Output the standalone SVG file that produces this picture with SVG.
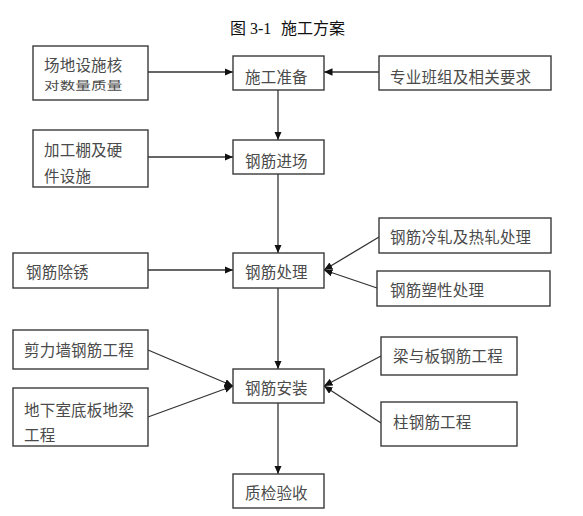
<svg xmlns="http://www.w3.org/2000/svg" width="583" height="516" viewBox="0 0 583 516">
<style>
.box{fill:#fff;stroke:#3a3a3a;stroke-width:1.4}
.t{font-family:"Noto Sans CJK SC","Noto Sans",sans-serif;font-size:15.5px;fill:#4a4a4a;letter-spacing:0.2px}
.ttl{font-family:"Noto Sans CJK SC","Noto Sans",sans-serif;font-size:16px;fill:#111}
.c{fill:none;stroke:#333;stroke-width:1.3;marker-end:url(#ah)}
</style>
<defs>
<marker id="ah" markerUnits="userSpaceOnUse" markerWidth="9" markerHeight="8" refX="8.5" refY="3.75" orient="auto">
<path d="M0,0 L8.5,3.75 L0,7.5 z" fill="#111"/>
</marker>
</defs>
<rect width="583" height="516" fill="#fff"/>
<g id="title">
<text class="ttl" y="34"><tspan x="230">图</tspan><tspan x="250" style="font-family:'Liberation Serif',serif">3-1</tspan><tspan x="281">施工方案</tspan></text>
</g>
<g id="connectors">
<line class="c" x1="148" y1="72" x2="233" y2="72"/>
<line class="c" x1="379" y1="72" x2="324" y2="72"/>
<line class="c" x1="278" y1="90" x2="278" y2="140"/>
<line class="c" x1="148" y1="157" x2="233" y2="157"/>
<line class="c" x1="278" y1="174" x2="278" y2="253"/>
<line class="c" x1="148" y1="270" x2="233" y2="270"/>
<line class="c" x1="379" y1="237" x2="324" y2="270"/>
<line class="c" x1="377" y1="288" x2="324" y2="270"/>
<line class="c" x1="278" y1="288" x2="278" y2="369"/>
<line class="c" x1="148" y1="350" x2="233" y2="386"/>
<line class="c" x1="148" y1="417" x2="233" y2="386"/>
<line class="c" x1="381" y1="356" x2="324" y2="386"/>
<line class="c" x1="381" y1="423" x2="324" y2="386"/>
<line class="c" x1="278" y1="403" x2="278" y2="474"/>
</g>
<g id="n1"><rect class="box" x="33" y="46" width="115" height="54"/><text class="t" x="44" y="71">场地设施核</text><text class="t" x="44" y="90" transform="translate(0,22.5) scale(1,0.75)">对数量质量</text></g>
<g id="n2"><rect class="box" x="233" y="56" width="91" height="34"/><text class="t" x="245" y="83">施工准备</text></g>
<g id="n3"><rect class="box" x="379" y="56" width="172" height="34"/><text class="t" x="390" y="83">专业班组及相关要求</text></g>
<g id="n4"><rect class="box" x="33" y="130" width="115" height="57"/><text class="t" x="44" y="156">加工棚及硬</text><text class="t" x="44" y="182">件设施</text></g>
<g id="n5"><rect class="box" x="233" y="140" width="91" height="34"/><text class="t" x="245" y="167">钢筋进场</text></g>
<g id="n6"><rect class="box" x="379" y="218" width="172" height="35"/><text class="t" x="390" y="243">钢筋冷轧及热轧处理</text></g>
<g id="n7"><rect class="box" x="13" y="253" width="135" height="35"/><text class="t" x="26" y="278">钢筋除锈</text></g>
<g id="n8"><rect class="box" x="233" y="253" width="91" height="35"/><text class="t" x="245" y="278">钢筋处理</text></g>
<g id="n9"><rect class="box" x="377" y="271" width="173" height="35"/><text class="t" x="390" y="296">钢筋塑性处理</text></g>
<g id="n10"><rect class="box" x="13" y="330" width="135" height="39"/><text class="t" x="24" y="356">剪力墙钢筋工程</text></g>
<g id="n11"><rect class="box" x="381" y="337" width="136" height="38"/><text class="t" x="393" y="362">梁与板钢筋工程</text></g>
<g id="n12"><rect class="box" x="233" y="369" width="91" height="34"/><text class="t" x="245" y="394">钢筋安装</text></g>
<g id="n13"><rect class="box" x="13" y="388" width="135" height="58"/><text class="t" x="24" y="416">地下室底板地梁</text><text class="t" x="24" y="441">工程</text></g>
<g id="n14"><rect class="box" x="381" y="402" width="136" height="44"/><text class="t" x="393" y="428">柱钢筋工程</text></g>
<g id="n15"><rect class="box" x="233" y="474" width="91" height="34"/><text class="t" x="245" y="499">质检验收</text></g>
</svg>
